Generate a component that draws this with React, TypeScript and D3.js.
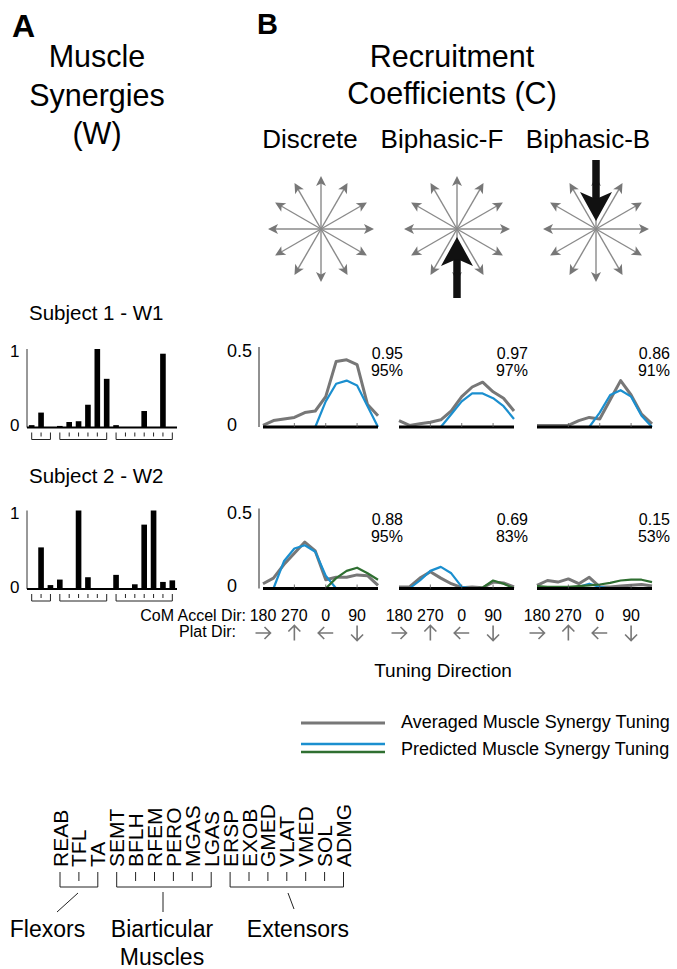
import React from "react";
import * as d3 from "d3";

// ---------------- DATA ----------------
const muscles = ["REAB", "TFL", "TA", "SEMT", "BFLH", "RFEM", "PERO", "MGAS", "LGAS", "ERSP", "EXOB", "GMED", "VLAT", "VMED", "SOL", "ADMG"];
const groupNames = [["Flexors"], ["Biarticular", "Muscles"], ["Extensors"]];
const groupSizes = [3, 6, 7];
const subjectLabels = ["Subject 1 - W1", "Subject 2 - W2"];
const w1 = [0.03, 0.19, 0, 0.02, 0.07, 0.08, 0.29, 1.0, 0.62, 0.03, 0, 0, 0.21, 0, 0.94, 0];
const w2 = [0, 0.53, 0.05, 0.12, 0, 1.0, 0.15, 0, 0, 0.18, 0, 0.06, 0.82, 1.0, 0.09, 0.11];
const barTickValues = [0, 1];

const conditions = ["Discrete", "Biphasic-F", "Biphasic-B"];
const accelDirs = [180, 210, 240, 270, 300, 330, 0, 30, 60, 90, 120, 150];
const accelTickLabels = [180, 270, 0, 90];
const tuningTickValues = [0, 0.5];

const s1Avg = [
  [0.01, 0.04, 0.05, 0.06, 0.09, 0.1, 0.19, 0.41, 0.42, 0.39, 0.14, 0.07],
  [0.04, 0.01, 0.02, 0.03, 0.045, 0.1, 0.19, 0.25, 0.28, 0.22, 0.18, 0.1],
  [0.01, 0.01, 0.01, 0.01, 0.04, 0.06, 0.05, 0.17, 0.29, 0.2, 0.08, 0.02],
];
const s1Pred = [
  [0, 0, 0, 0, 0, 0, 0.16, 0.27, 0.29, 0.26, 0.13, 0],
  [0, 0, 0, 0, 0, 0.08, 0.16, 0.21, 0.21, 0.18, 0.13, 0.05],
  [0, 0, 0, 0, 0, 0, 0.09, 0.2, 0.23, 0.19, 0.07, 0],
];
const s2Avg = [
  [0.03, 0.065, 0.15, 0.22, 0.29, 0.235, 0.055, 0.07, 0.07, 0.085, 0.08, 0.02],
  [0.01, 0.01, 0.065, 0.105, 0.065, 0.03, 0.005, 0.01, 0.005, 0.04, 0.035, 0.01],
  [0.02, 0.05, 0.04, 0.06, 0.03, 0.07, 0.01, 0.01, 0.015, 0.02, 0.025, 0.015],
];
const s2Pred = [
  [0, 0, 0.17, 0.25, 0.27, 0.23, 0.08, 0, 0, 0, 0, 0],
  [0, 0, 0.05, 0.11, 0.135, 0.095, 0.01, 0, 0, 0, 0, 0],
  [0, 0, 0, 0, 0.01, 0.03, 0.01, 0, 0, 0, 0, 0],
];
const s2Pred2 = [
  [0, 0, 0, 0, 0, 0, 0, 0.065, 0.11, 0.13, 0.095, 0.055],
  [0, 0, 0, 0, 0, 0, 0, 0, 0.005, 0.05, 0.03, 0],
  [0.015, 0.01, 0.01, 0.01, 0.015, 0.02, 0.025, 0.035, 0.05, 0.055, 0.055, 0.04],
];
const s1Corr = ["0.95", "0.97", "0.86"];
const s1Vaf = ["95%", "97%", "91%"];
const s2Corr = ["0.88", "0.69", "0.15"];
const s2Vaf = ["95%", "83%", "53%"];

const starDirs = [0, 30, 60, 90, 120, 150, 180, 210, 240, 270, 300, 330];
const perturbDirs: (number | null)[] = [null, 90, 270];
const legendLabels = ["Averaged Muscle Synergy Tuning", "Predicted Muscle Synergy Tuning"];

// ---------------- STYLE / LAYOUT ----------------
const W = 677, H = 969;
const FONT = "'Liberation Sans', Arial, Helvetica, sans-serif";
const GREY = "#777777";
const BLUE = "#1b8fcf";
const GREEN = "#2f6f31";
const panelX = [263, 399, 537];
const panelW = 115;
const annotX = [403, 528, 670];
const rowBase = [427.5, 589];
const rowLabelY = [320, 483];
const rowAnnotDy = [-69, -64];
const condX = [310, 442, 588];
const starX = [321, 457, 596];
const starY = 229;
const starR = 53;

const xBar = d3.scaleBand<string>().domain(muscles).range([27, 177]).paddingInner(0.4).paddingOuter(0.2);
const xIdx = d3.scalePoint<number>().domain(d3.range(accelDirs.length)).range([0, panelW]);
const xLbl = d3.scalePoint<string>().domain(muscles).range([60, 343.5]);

function arrowHead(tx: number, ty: number, ang: number, len: number, hw: number, notch: number) {
  const dx = Math.cos(ang), dy = -Math.sin(ang);
  const px = -dy, py = dx;
  const bx = tx - dx * len, by = ty - dy * len;
  const nx = tx - dx * (len - notch), ny = ty - dy * (len - notch);
  return `M${tx},${ty}L${bx + px * hw},${by + py * hw}L${nx},${ny}L${bx - px * hw},${by - py * hw}Z`;
}

function Star({ cx, cy, pert }: { cx: number; cy: number; pert: number | null }) {
  return (
    <g>
      {starDirs.map((a) => {
        const r = (a * Math.PI) / 180;
        const tx = cx + Math.cos(r) * starR, ty = cy - Math.sin(r) * starR;
        const lx = cx + Math.cos(r) * (starR - 6), ly = cy - Math.sin(r) * (starR - 6);
        return (
          <g key={a}>
            <line x1={cx} y1={cy} x2={lx} y2={ly} stroke="#8a8a8a" strokeWidth={1.4} />
            <path d={arrowHead(tx, ty, r, 10, 5, 2.5)} fill={GREY} />
          </g>
        );
      })}
      {pert !== null && (() => {
        const r = (pert * Math.PI) / 180;
        const dx = Math.cos(r), dy = -Math.sin(r);
        const tipX = cx - dx * 8, tipY = cy - dy * 8;
        const tailX = tipX - dx * 61, tailY = tipY - dy * 61;
        const shaftEndX = tipX - dx * 20, shaftEndY = tipY - dy * 20;
        return (
          <g>
            <line x1={tailX} y1={tailY} x2={shaftEndX} y2={shaftEndY} stroke="#111" strokeWidth={7.5} />
            <path d={arrowHead(tipX, tipY, r, 29, 16, 7)} fill="#111" />
          </g>
        );
      })()}
    </g>
  );
}

function PlatArrow({ x, y, accel }: { x: number; y: number; accel: number }) {
  const r = ((accel + 180) * Math.PI) / 180;
  const dx = Math.cos(r), dy = -Math.sin(r);
  const L = 7.5;
  const tx = x + dx * L, ty = y + dy * L;
  const sx = x - dx * L, sy = y - dy * L;
  const px = -dy, py = dx;
  const h = 6;
  return (
    <path
      d={`M${sx},${sy}L${tx},${ty}M${tx - dx * h + px * h},${ty - dy * h + py * h}L${tx},${ty}L${tx - dx * h - px * h},${ty - dy * h - py * h}`}
      stroke={GREY}
      strokeWidth={1.6}
      fill="none"
    />
  );
}

function Row({ idx, weights, avg, pred, pred2, corr, vaf }: {
  idx: number; weights: number[]; avg: number[][]; pred: number[][]; pred2: number[][] | null; corr: string[]; vaf: string[];
}) {
  const base = rowBase[idx];
  const yBar = d3.scaleLinear().domain([0, 1]).range([base, base - 78.5]);
  const yT = d3.scaleLinear().domain([0, 0.5]).range([base - 0.5, base - 80.5]);
  const line = (px: number) =>
    d3.line<number>().x((_, i) => px + (xIdx(i) as number)).y((d) => yT(d));
  // brackets
  let start = 0;
  const brackets = groupSizes.map((n) => {
    const ids = d3.range(start, start + n);
    start += n;
    return ids;
  });
  const bTop = base + 5, bBot = base + 12, bMid = base + 9;
  const cx = (m: string) => (xBar(m) as number) + xBar.bandwidth() / 2;
  return (
    <g>
      <text x={29} y={rowLabelY[idx]} fontSize={20.5} fontFamily={FONT}>{subjectLabels[idx]}</text>
      {/* bar chart */}
      <line x1={27} x2={27} y1={yBar(0)} y2={yBar(1)} stroke="#333" strokeWidth={1} />
      {barTickValues.map((t) => (
        <text key={t} x={10} y={yBar(t) + (t === 0 ? 3.5 : 8)} fontSize={17} fontFamily={FONT}>{t}</text>
      ))}
      {weights.map((v, i) => (
        <rect key={i} x={xBar(muscles[i])} width={xBar.bandwidth()} y={yBar(v)} height={yBar(0) - yBar(v)} fill="#000" />
      ))}
      <line x1={27} x2={177} y1={yBar(0)} y2={yBar(0)} stroke="#000" strokeWidth={2} />
      {brackets.map((ids, g) => {
        const x0 = cx(muscles[ids[0]]), x1 = cx(muscles[ids[ids.length - 1]]);
        return (
          <g key={g} stroke="#222" strokeWidth={1} fill="none">
            <path d={`M${x0},${bTop}L${x0},${bBot}L${x1},${bBot}L${x1},${bTop}`} />
            {ids.slice(1, -1).map((m) => (
              <line key={m} x1={cx(muscles[m])} x2={cx(muscles[m])} y1={bTop} y2={bMid} />
            ))}
          </g>
        );
      })}
      {/* tuning */}
      <line x1={259} x2={259} y1={yT(0)} y2={yT(0.5)} stroke="#222" strokeWidth={1} />
      {tuningTickValues.map((t) => (
        <text key={t} x={227} y={yT(t) + (t === 0 ? 3.5 : 10)} fontSize={18} fontFamily={FONT}>{t}</text>
      ))}
      {conditions.map((c, p) => {
        const px = panelX[p];
        return (
          <g key={c}>
            <path d={line(px)(avg[p]) as string} stroke={GREY} strokeWidth={3} fill="none" strokeLinejoin="round" />
            <path d={line(px)(pred[p]) as string} stroke={BLUE} strokeWidth={2.2} fill="none" strokeLinejoin="round" />
            {pred2 && <path d={line(px)(pred2[p]) as string} stroke={GREEN} strokeWidth={2.2} fill="none" strokeLinejoin="round" />}
            <line x1={px} x2={px + panelW} y1={yT(0)} y2={yT(0)} stroke="#000" strokeWidth={3} />
            {[3, 6, 9].map((i) => (
              <line key={i} x1={px + (xIdx(i) as number)} x2={px + (xIdx(i) as number)} y1={yT(0)} y2={yT(0) - 4} stroke="#555" strokeWidth={0.8} />
            ))}
            <text x={annotX[p]} y={base + rowAnnotDy[idx]} fontSize={16} fontFamily={FONT} textAnchor="end">{corr[p]}</text>
            <text x={annotX[p]} y={base + rowAnnotDy[idx] + 17} fontSize={16} fontFamily={FONT} textAnchor="end">{vaf[p]}</text>
          </g>
        );
      })}
    </g>
  );
}

export default function App() {
  let s = 0;
  const groups = groupSizes.map((n) => {
    const ids = d3.range(s, s + n);
    s += n;
    return ids;
  });
  const connectors = [
    [[78, 893], [57, 912]],
    [[163, 892], [163, 912]],
    [[288, 893], [294, 909]],
  ];
  const groupLabelX = [47.5, 162, 298];
  return (
    <svg width={W} height={H} style={{ position: "absolute", left: 0, top: 0, background: "#fff" }} fontFamily={FONT}>
      <rect width={W} height={H} fill="#fff" />
      {/* Titles */}
      <text x={12} y={37} fontSize={32} fontWeight="bold">A</text>
      <text x={257} y={34} fontSize={29} fontWeight="bold">B</text>
      {["Muscle", "Synergies", "(W)"].map((t, i) => (
        <text key={t} x={97} y={[67, 106, 144][i]} fontSize={30.5} textAnchor="middle">{t}</text>
      ))}
      {["Recruitment", "Coefficients (C)"].map((t, i) => (
        <text key={t} x={452} y={[67, 104][i]} fontSize={30.5} textAnchor="middle">{t}</text>
      ))}
      {conditions.map((c, i) => (
        <text key={c} x={condX[i]} y={148} fontSize={26} textAnchor="middle">{c}</text>
      ))}
      {conditions.map((c, i) => (
        <Star key={c} cx={starX[i]} cy={starY} pert={perturbDirs[i]} />
      ))}

      <Row idx={0} weights={w1} avg={s1Avg} pred={s1Pred} pred2={null} corr={s1Corr} vaf={s1Vaf} />
      <Row idx={1} weights={w2} avg={s2Avg} pred={s2Pred} pred2={s2Pred2} corr={s2Corr} vaf={s2Vaf} />

      {/* direction axis labels */}
      <text x={246} y={621} fontSize={16} textAnchor="end">CoM Accel Dir:</text>
      <text x={236} y={637} fontSize={16} textAnchor="end">Plat Dir:</text>
      {conditions.map((c, p) =>
        accelTickLabels.map((a) => {
          const i = accelDirs.indexOf(a);
          const x = panelX[p] + (xIdx(i) as number);
          return (
            <g key={c + a}>
              <text x={x} y={621} fontSize={16} textAnchor="middle">{a}</text>
              <PlatArrow x={x} y={633} accel={a} />
            </g>
          );
        })
      )}
      <text x={443} y={677} fontSize={19} textAnchor="middle">Tuning Direction</text>

      {/* legend */}
      <line x1={301} x2={385} y1={723} y2={723} stroke={GREY} strokeWidth={3} />
      <line x1={301} x2={385} y1={744} y2={744} stroke={BLUE} strokeWidth={2.5} />
      <line x1={301} x2={385} y1={752} y2={752} stroke={GREEN} strokeWidth={2.5} />
      <text x={401} y={728} fontSize={18}>{legendLabels[0]}</text>
      <text x={401} y={755} fontSize={18}>{legendLabels[1]}</text>

      {/* muscle labels */}
      {muscles.map((m) => (
        <text key={m} transform={`translate(${xLbl(m)},867) rotate(-90)`} dy="0.36em" fontSize={21}>{m}</text>
      ))}
      {groups.map((ids, g) => {
        const x0 = xLbl(muscles[ids[0]]) as number, x1 = xLbl(muscles[ids[ids.length - 1]]) as number;
        return (
          <g key={g} stroke="#222" strokeWidth={1} fill="none">
            <path d={`M${x0},872L${x0},887L${x1},887L${x1},872`} />
            {ids.slice(1, -1).map((m) => (
              <line key={m} x1={xLbl(muscles[m])} x2={xLbl(muscles[m])} y1={872} y2={881} />
            ))}
            <line x1={connectors[g][0][0]} y1={connectors[g][0][1]} x2={connectors[g][1][0]} y2={connectors[g][1][1]} />
          </g>
        );
      })}
      {groupNames.map((lines, g) =>
        lines.map((t, j) => (
          <text key={t} x={groupLabelX[g]} y={937 + j * 28} fontSize={23} textAnchor="middle">{t}</text>
        ))
      )}
    </svg>
  );
}
